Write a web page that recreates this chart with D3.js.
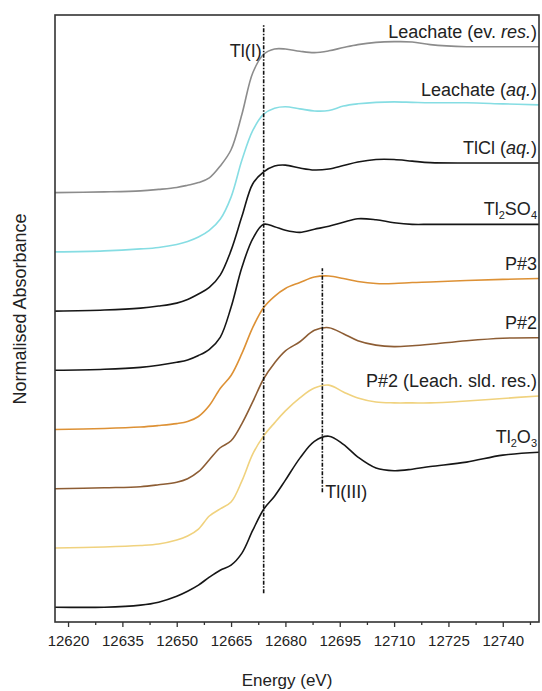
<!DOCTYPE html>
<html>
<head>
<meta charset="utf-8">
<script src="https://cdn.jsdelivr.net/npm/d3@7"></script>
<style>
  body { margin: 0; background: #fff; }
  svg text { font-family: "Liberation Sans", Arial, sans-serif; fill: #222; }
</style>
</head>
<body>
<div id="chart"></div>
<script>
// energy grid (eV) shared by every spectrum
var energy = [12616.4, 12630, 12640, 12645, 12650, 12653, 12656, 12659, 12662, 12665,
  12668, 12671, 12674, 12677, 12680, 12684, 12688, 12692, 12696, 12700,
  12705, 12710, 12715, 12720, 12730, 12740, 12750];

// normalised spectra (top to bottom)
var leachateEv = [0, 0.005, 0.012, 0.022, 0.035, 0.05, 0.068, 0.1, 0.18, 0.29,
  0.53, 0.81, 0.935, 0.97, 0.97, 0.955, 0.946, 0.958, 0.98, 1.0,
  1.015, 1.02, 1.018, 1.0, 0.986, 0.986, 0.986];
var leachateAq = [0, 0.007, 0.02, 0.03, 0.05, 0.07, 0.1, 0.145, 0.22, 0.37,
  0.62, 0.82, 0.93, 0.97, 0.98, 0.966, 0.952, 0.955, 0.985, 1.0,
  1.01, 1.013, 1.01, 1.007, 1.007, 1.0, 0.993];
var tlclAq = [0, 0.007, 0.02, 0.034, 0.054, 0.078, 0.115, 0.16, 0.243, 0.41,
  0.64, 0.86, 0.94, 0.98, 0.986, 0.966, 0.953, 0.96, 0.983, 1.007,
  1.024, 1.024, 1.013, 1.003, 1.0, 1.0, 1.0];
var tl2so4 = [0, 0.007, 0.02, 0.034, 0.054, 0.07, 0.1, 0.142, 0.223, 0.426,
  0.696, 0.89, 0.986, 0.97, 0.946, 0.932, 0.953, 0.973, 1.0, 1.024,
  1.017, 0.997, 0.986, 0.986, 0.986, 0.986, 0.986];
var p3 = [0, 0.007, 0.017, 0.027, 0.04, 0.054, 0.088, 0.162, 0.277, 0.365,
  0.514, 0.69, 0.824, 0.9, 0.953, 0.993, 1.03, 1.037, 1.02, 1.0,
  0.986, 0.986, 0.993, 0.997, 1.007, 1.014, 1.02];
var p2 = [0, 0.007, 0.014, 0.027, 0.044, 0.068, 0.115, 0.196, 0.277, 0.324,
  0.44, 0.588, 0.743, 0.85, 0.932, 0.993, 1.07, 1.088, 1.047, 1.0,
  0.97, 0.96, 0.966, 0.976, 1.0, 1.017, 1.02];
var p2Leach = [0, 0.007, 0.017, 0.027, 0.054, 0.081, 0.128, 0.216, 0.264, 0.31,
  0.453, 0.635, 0.757, 0.845, 0.926, 1.014, 1.08, 1.1, 1.054, 1.013,
  0.986, 0.98, 0.98, 0.98, 0.993, 1.01, 1.027];
var tl2o3 = [0, 0, 0.014, 0.034, 0.074, 0.108, 0.149, 0.203, 0.25, 0.284,
  0.365, 0.52, 0.662, 0.75, 0.858, 1.007, 1.12, 1.155, 1.1, 1.014,
  0.94, 0.922, 0.932, 0.95, 0.98, 1.027, 1.047];

var spectra = [leachateEv, leachateAq, tlclAq, tl2so4, p3, p2, p2Leach, tl2o3];
var offsets = [2.8, 2.4, 2.0, 1.6, 1.2, 0.8, 0.4, 0];
// label pieces: [text, style] where style is "", "i" (italic) or "sub"
var labels = [
  [["Leachate (ev. ", ""], ["res.", "i"], [")", ""]],
  [["Leachate (", ""], ["aq.", "i"], [")", ""]],
  [["TlCl (", ""], ["aq.", "i"], [")", ""]],
  [["Tl", ""], ["2", "sub"], ["SO", ""], ["4", "sub"]],
  [["P#3", ""]],
  [["P#2", ""]],
  [["P#2 (Leach. sld. res.)", ""]],
  [["Tl", ""], ["2", "sub"], ["O", ""], ["3", "sub"]]
];
var colors = ["#8c8c8c", "#86dde3", "#161616", "#161616", "#dd9135", "#8d5d34", "#f0d27e", "#161616"];

// oxidation-state markers: energy, y from, y to
var markers = [
  { name: "Tl(I)", e: 12674, y0: 0.095, y1: 3.93 },
  { name: "Tl(III)", e: 12690.2, y0: 0.777, y1: 2.29 }
];

var majorTicks = [12620, 12635, 12650, 12665, 12680, 12695, 12710, 12725, 12740];
var minorTicks = majorTicks.map(function(t) { return t + 7.5; });

var svgWidth = 542;
var svgHeight = 691;
var margin = { top: 15, right: 3, bottom: 69, left: 55 };
var width = svgWidth - margin.left - margin.right;
var height = svgHeight - margin.top - margin.bottom;

var svg = d3.select("#chart").append("svg")
  .attr("width", svgWidth)
  .attr("height", svgHeight);

var chartGroup = svg.append("g")
  .attr("transform", `translate(${margin.left}, ${margin.top})`);

var xScale = d3.scaleLinear().domain([12616.4, 12750]).range([0, width]);
var yScale = d3.scaleLinear().domain([-0.1, 4.0]).range([height, 0]);

// axes
var xAxis = d3.axisBottom(xScale).tickValues(majorTicks).tickSize(5).tickPadding(8)
  .tickFormat(d3.format("d"));
var xMinor = d3.axisBottom(xScale).tickValues(minorTicks).tickSize(3).tickFormat("");

var gx = chartGroup.append("g").attr("transform", `translate(0, ${height})`).call(xAxis);
var gm = chartGroup.append("g").attr("transform", `translate(0, ${height})`).call(xMinor);
[gx, gm].forEach(function(g) {
  g.select(".domain").remove();
  g.selectAll("line").attr("stroke", "#333").attr("stroke-width", 1.3);
});
gx.selectAll("text").style("font-size", "15px").attr("fill", "#333");

// spectra
var line = d3.line()
  .x(function(d) { return xScale(d[0]); })
  .y(function(d) { return yScale(d[1]); })
  .curve(d3.curveCatmullRom.alpha(0.5));

spectra.forEach(function(s, i) {
  var pts = energy.map(function(e, j) { return [e, s[j] + offsets[i]]; });
  chartGroup.append("path")
    .datum(pts)
    .attr("d", line)
    .attr("fill", "none")
    .attr("stroke", colors[i])
    .attr("stroke-width", 1.6);

  var last = s[s.length - 1] + offsets[i];
  var t = chartGroup.append("text")
    .attr("x", xScale(12750) - 2)
    .attr("y", yScale(last) - 9)
    .attr("text-anchor", "end")
    .style("font-size", "18px");
  labels[i].forEach(function(p) {
    var sp = t.append("tspan").text(p[0]);
    if (p[1] === "i") sp.style("font-style", "italic");
    if (p[1] === "sub") sp.style("font-size", "11px").attr("dy", 4);
    else if (sp.node().previousSibling && d3.select(sp.node().previousSibling).attr("dy")) sp.attr("dy", -4);
  });
});

// dash-dot reference lines
markers.forEach(function(m) {
  chartGroup.append("line")
    .attr("x1", xScale(m.e)).attr("x2", xScale(m.e))
    .attr("y1", yScale(m.y0)).attr("y2", yScale(m.y1))
    .attr("stroke", "#111")
    .attr("stroke-width", 1.6)
    .attr("stroke-dasharray", "4,1.5,1.5,1.5");
});
chartGroup.append("text")
  .attr("x", xScale(markers[0].e) - 2)
  .attr("y", yScale(markers[0].y1) + 32)
  .attr("text-anchor", "end")
  .style("font-size", "18px")
  .text(markers[0].name);
chartGroup.append("text")
  .attr("x", xScale(markers[1].e) + 3)
  .attr("y", yScale(markers[1].y0) + 6)
  .style("font-size", "18px")
  .text(markers[1].name);

// frame
chartGroup.append("rect")
  .attr("width", width).attr("height", height)
  .attr("fill", "none")
  .attr("stroke", "#333")
  .attr("stroke-width", 1.6);

// axis labels
chartGroup.append("text")
  .attr("transform", "rotate(-90)")
  .attr("x", 0 - (309 - margin.top))
  .attr("y", 26 - margin.left)
  .attr("text-anchor", "middle")
  .style("font-size", "18px")
  .text("Normalised Absorbance");
chartGroup.append("text")
  .attr("x", (287 - margin.left))
  .attr("y", height + 64)
  .attr("text-anchor", "middle")
  .style("font-size", "17px")
  .text("Energy (eV)");
</script>
</body>
</html>
